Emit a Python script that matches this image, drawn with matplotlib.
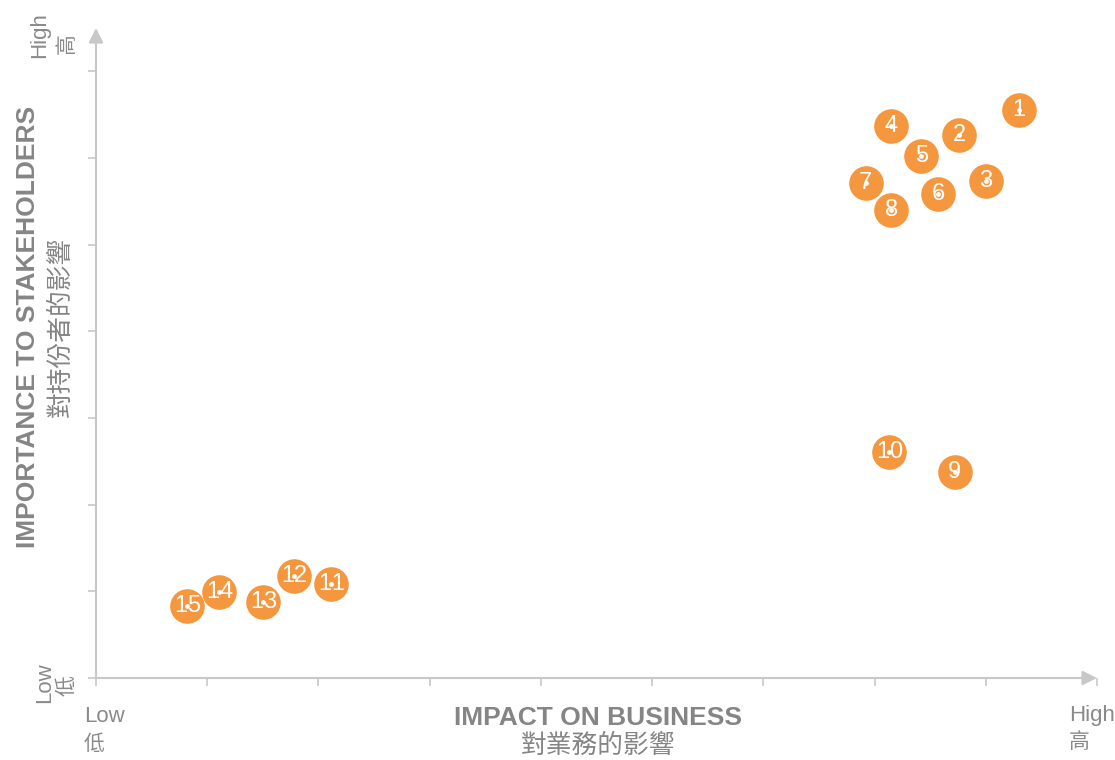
import matplotlib
matplotlib.use("Agg")
import matplotlib.pyplot as plt

plt.rcParams["font.family"] = ["Liberation Sans", "Noto Sans CJK TC", "DejaVu Sans"]

# issue numbers with (impact on business, importance to stakeholders)
labels = ["1", "2", "3", "4", "5", "6", "7", "8", "9", "10", "11", "12", "13", "14", "15"]
impact = [8.30, 7.76, 8.00, 7.15, 7.42, 7.57, 6.92, 7.15, 7.72, 7.13, 2.11, 1.78, 1.50, 1.11, 0.82]
importance = [6.55, 6.26, 5.74, 6.37, 6.02, 5.59, 5.71, 5.40, 2.38, 2.61, 1.08, 1.18, 0.88, 0.99, 0.83]

x_ticks = list(range(0, 10))
y_ticks = list(range(0, 8))

ORANGE = "#F4973F"
AXIS = "#c8c8c8"
TXT = "#8a8a8a"
TITLE = "#858585"

W, H = 1115, 760
fig = plt.figure(figsize=(W / 100, H / 100), dpi=100)
ax = fig.add_axes([96 / W, (H - 678) / H, (1097 - 96) / W, (678 - 28) / H])
ax.set_xlim(0, 9)
ax.set_ylim(0, 7.5)
for s in ax.spines.values():
    s.set_visible(False)

ax.set_xticks(x_ticks)
ax.set_yticks(y_ticks)
ax.set_xticklabels([])
ax.set_yticklabels([])
ax.tick_params(length=6, width=1.2, color=AXIS)

arrow = dict(arrowstyle="-|>", color=AXIS, lw=1.5, mutation_scale=22, shrinkA=0, shrinkB=0)
ax.annotate("", xy=(9, 0), xytext=(0, 0), arrowprops=arrow, annotation_clip=False)
ax.annotate("", xy=(0, 7.5), xytext=(0, 0), arrowprops=arrow, annotation_clip=False)

ax.scatter(impact, importance, s=620, color=ORANGE, linewidths=0, zorder=3, clip_on=False)
ax.scatter(impact, importance, s=12, color="white", linewidths=0, zorder=4)
for lab, x, y in zip(labels, impact, importance):
    if len(lab) == 1:
        ax.text(x, y, lab, color="white", fontsize=17, ha="center", va="center", zorder=5)
    else:
        # two digits drawn apart so the centre dot shows between them
        ax.annotate(lab[0], (x, y), xytext=(-4.5, 0), textcoords="offset points", color="white",
                    fontsize=17, ha="center", va="center", zorder=5)
        ax.annotate(lab[1], (x, y), xytext=(5, 0), textcoords="offset points", color="white",
                    fontsize=17, ha="center", va="center", zorder=5)

# axis titles
fig.text(598 / W, 1 - 718 / H, "IMPACT ON BUSINESS", fontsize=19, color=TITLE,
         ha="center", va="center", weight="bold")
fig.text(598 / W, 1 - 746 / H, "對業務的影響", fontsize=18.5, color=TITLE, ha="center", va="center")
fig.text(28 / W, 1 - 327 / H, "IMPORTANCE TO STAKEHOLDERS", fontsize=19, color=TITLE,
         ha="center", va="center", rotation=90, weight="bold")
fig.text(61 / W, 1 - 327 / H, "對持份者的影響", fontsize=18.5, color=TITLE,
         ha="center", va="center", rotation=90)

# low / high markers
fig.text(84 / W, 1 - 717 / H, "Low", fontsize=16, color=TXT, ha="left", va="center")
fig.text(84 / W, 1 - 744 / H, "低", fontsize=15, color=TXT, ha="left", va="center")
fig.text(1069 / W, 1 - 716 / H, "High", fontsize=16, color=TXT, ha="left", va="center")
fig.text(1069 / W, 1 - 742 / H, "高", fontsize=15, color=TXT, ha="left", va="center")
fig.text(40 / W, 1 - 35 / H, "High", fontsize=16, color=TXT, ha="center", va="center", rotation=90)
fig.text(67 / W, 1 - 44 / H, "高", fontsize=15, color=TXT, ha="center", va="center", rotation=90)
fig.text(45 / W, 1 - 683 / H, "Low", fontsize=16, color=TXT, ha="center", va="center", rotation=90)
fig.text(67 / W, 1 - 686 / H, "低", fontsize=15, color=TXT, ha="center", va="center", rotation=90)

fig.savefig("out.png", dpi=100)
